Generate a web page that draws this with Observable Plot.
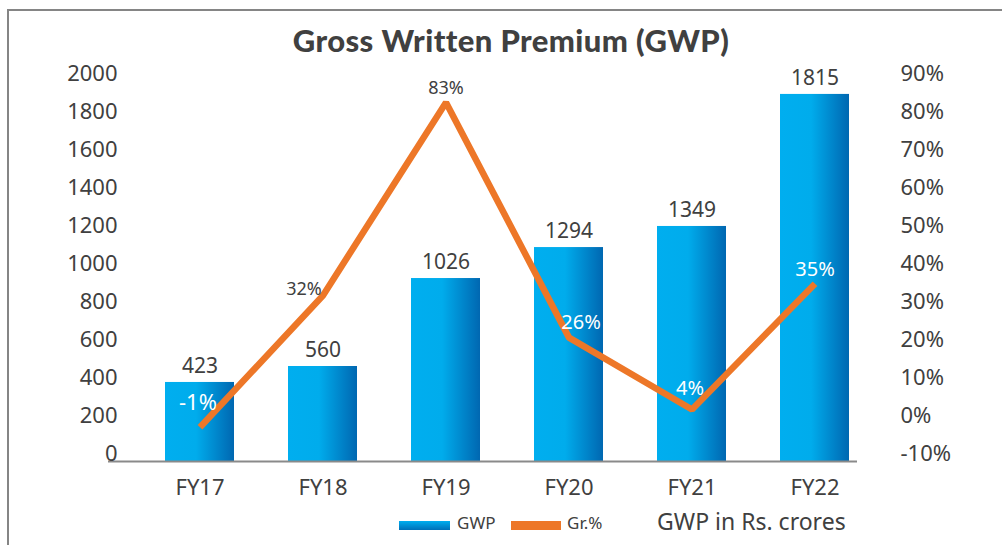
<!DOCTYPE html>
<html>
<head>
<meta charset="utf-8">
<script src="https://cdn.jsdelivr.net/npm/d3@7"></script>
<script src="https://cdn.jsdelivr.net/npm/@observablehq/plot@0.6"></script>
<style>
  html, body { margin: 0; padding: 0; background: #fff; }
  #wrap { position: relative; width: 1002px; height: 545px; overflow: hidden; font-family: "Noto Sans", sans-serif; color: #404040; }
  #frame { position: absolute; left: 7px; top: 9px; width: 1100px; height: 600px; border-left: 2px solid #858585; border-top: 2px solid #858585; }
  #title { position: absolute; left: 20px; width: 982px; top: 21px; text-align: center; font-family: "Lato", sans-serif; font-weight: 900; font-size: 31px; letter-spacing: 0.4px; line-height: 38px; color: #404040; white-space: nowrap; }
  #chart { position: absolute; left: 0; top: 60px; }
  .lg { position: absolute; white-space: nowrap; }
</style>
</head>
<body>
<div id="wrap">
  <div id="frame"></div>
  <div id="title">Gross Written Premium (GWP)</div>
  <div id="chart"></div>
  <div class="lg" style="left:399px;top:521px;width:51px;height:9px;background:linear-gradient(to bottom,#00AEEF,#0070B8);"></div>
  <div class="lg" style="left:457px;top:512px;font-size:17px;line-height:22px;">GWP</div>
  <div class="lg" style="left:511px;top:521px;width:50px;height:9px;background:#ED7728;"></div>
  <div class="lg" style="left:567px;top:512px;font-size:17px;line-height:22px;">Gr.%</div>
  <div class="lg" style="left:657px;top:506px;font-size:23px;line-height:30px;">GWP in Rs. crores</div>
</div>
<script>
// Data
const years = ["FY17", "FY18", "FY19", "FY20", "FY21", "FY22"];
const gwpBars = [416, 500, 963, 1126, 1237, 1932];          // bar heights as drawn
const gwpLabels = ["423", "560", "1026", "1294", "1349", "1815"];
const growthLine = [-1.0, 33.7, 84.5, 22.6, 3.7, 36.8];      // line points as drawn (%)
const growthLabels = ["-1%", "32%", "83%", "26%", "4%", "35%"];
const leftTicks = [0, 200, 400, 600, 800, 1000, 1200, 1400, 1600, 1800, 2000];
const rightTicks = [-10, 0, 10, 20, 30, 40, 50, 60, 70, 80, 90];

// Styles for the growth labels (offsets from the line point)
const growthLabelStyle = [
  {dx: -2, dy: -24, fill: "#ffffff", size: 22},
  {dx: -19, dy: -6, fill: "#404040", size: 18},
  {dx: 0, dy: -14, fill: "#404040", size: 18},
  {dx: 12, dy: -15, fill: "#ffffff", size: 20},
  {dx: -2, dy: -21, fill: "#ffffff", size: 20},
  {dx: 0, dy: -14, fill: "#ffffff", size: 20}
];

const rows = years.map((y, i) => ({year: y, gwp: gwpBars[i], gwpLabel: gwpLabels[i], gr: growthLine[i], grLabel: growthLabels[i]}));
// map right-axis percent onto left-axis units: -10% -> 0, 90% -> 2000
const pctToY = p => (p + 10) * 20;

const growthTextMarks = rows.map((r, i) => Plot.text([r], {
  x: "year", y: d => pctToY(d.gr), text: "grLabel",
  dx: growthLabelStyle[i].dx, dy: growthLabelStyle[i].dy,
  fill: growthLabelStyle[i].fill, fontSize: growthLabelStyle[i].size
}));

const plot = Plot.plot({
  width: 1002,
  height: 450,
  marginLeft: 108,
  marginRight: 145,
  marginTop: 21,
  marginBottom: 49,
  style: {fontFamily: "Noto Sans, sans-serif", color: "#404040", background: "transparent", overflow: "visible"},
  x: {domain: years, paddingInner: 0.437, paddingOuter: 0.253, align: 0.876, label: null},
  y: {domain: [0, 2000], label: null},
  marks: [
    Plot.barY(rows, {x: "year", y: "gwp", fill: "url(#barGrad)"}),
    Plot.ruleY([0], {stroke: "#8a8a8a", strokeWidth: 2}),
    Plot.axisX({tickSize: 0, tickPadding: 18, fontSize: 22, fill: "#404040", label: null}),
    Plot.axisY({anchor: "left", ticks: leftTicks, tickSize: 0, tickPadding: 0, dx: 9, dy: -8, fontSize: 22, fill: "#404040", label: null, tickFormat: d => String(d)}),
    Plot.axisY({anchor: "right", ticks: rightTicks.map(pctToY), tickSize: 0, tickPadding: 43, dy: -8, fontSize: 22, fill: "#404040", label: null, tickFormat: d => Math.round(d / 20 - 10) + "%"}),
    Plot.text(rows, {x: "year", y: "gwp", text: "gwpLabel", dy: -16, fontSize: 21, fill: "#404040"}),
    Plot.line(rows, {x: "year", y: d => pctToY(d.gr), stroke: "#ED7728", strokeWidth: 6.5, strokeLinejoin: "miter", strokeLinecap: "butt"}),
    ...growthTextMarks
  ]
});

// gradient for bars
const svgNS = "http://www.w3.org/2000/svg";
const defs = document.createElementNS(svgNS, "defs");
defs.innerHTML = '<linearGradient id="barGrad" x1="0" y1="0" x2="1" y2="0">' +
  '<stop offset="0" stop-color="#00AEEF"/>' +
  '<stop offset="0.45" stop-color="#00ACEC"/>' +
  '<stop offset="1" stop-color="#0067B1"/>' +
  '</linearGradient>';
plot.insertBefore(defs, plot.firstChild);

document.getElementById("chart").appendChild(plot);
</script>
</body>
</html>
